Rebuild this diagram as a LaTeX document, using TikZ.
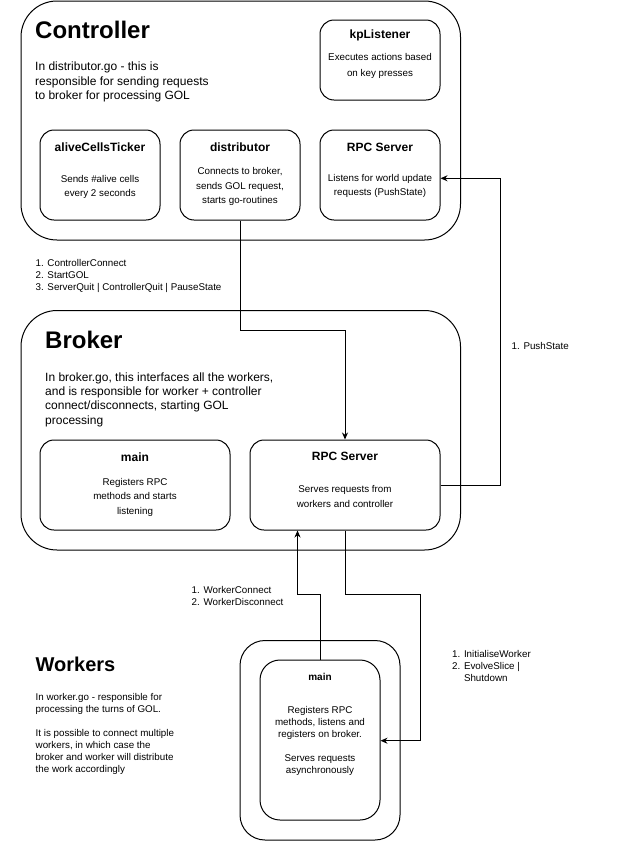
\documentclass[tikz,border=0pt]{standalone}
\usepackage{fontspec}
\setmainfont{Liberation Sans}
\usetikzlibrary{arrows.meta}
\begin{document}
\begin{tikzpicture}[x=1pt,y=-1pt,
  bigbox/.style={draw, line width=1pt, rounded corners=36pt, inner sep=0pt},
  cbox/.style={draw, line width=1pt, rounded corners=14pt, inner sep=0pt, minimum width=120pt, minimum height=90pt},
  wbox/.style={draw, line width=1pt, inner sep=0pt},
  bigtitle/.style={font=\fontsize{24}{28}\selectfont\bfseries, anchor=west, inner sep=0pt},
  desc/.style={font=\fontsize{12}{14.4}\selectfont, anchor=west, align=left, inner sep=0pt},
  btitle/.style={font=\fontsize{12}{14}\selectfont\bfseries, inner sep=0pt},
  bbody/.style={font=\fontsize{9.8}{14.6}\selectfont, align=center, inner sep=0pt},
  lbl/.style={font=\fontsize{9.8}{12}\selectfont, anchor=west, align=left, inner sep=0pt},
  arr/.style={line width=1pt, -{Stealth[length=7pt,width=6pt]}}
]
\useasboundingbox (0,0) rectangle (641,841);

% ---------- Controller ----------
\node[bigbox, minimum width=439.5pt, minimum height=239pt] (ctrl) at (240.75,120.5) {};
\node[bigtitle] (ctrlT) at (35,30) {Controller};
\node[desc] (ctrlD) at (35,82) {In distributor.go - this is\\responsible for sending requests\\to broker for processing GOL};

\node[cbox, minimum height=80pt] (kp) at (380,60) {};
\node[btitle] (kpT) at (380,35) {kpListener};
\node[bbody, font=\fontsize{9.8}{15.5}\selectfont] (kpB) at (380,66) {Executes actions based\\on key presses};

\node[cbox] (alive) at (100,175) {};
\node[btitle] (aliveT) at (100,147.5) {aliveCellsTicker};
\node[bbody] (aliveB) at (100,187) {Sends \#alive cells\\every 2 seconds};

\node[cbox] (dist) at (240,175) {};
\node[btitle] (distT) at (240,147.5) {distributor};
\node[bbody] (distB) at (240,186.5) {Connects to broker,\\sends GOL request,\\starts go-routines};

\node[cbox] (crpc) at (380,175) {};
\node[btitle] (crpcT) at (380,147.5) {RPC Server};
\node[bbody] (crpcB) at (380,186) {Listens for world update\\requests (PushState)};

% ---------- Broker ----------
\node[bigbox, minimum width=439.5pt, minimum height=239.5pt] (brk) at (240.75,430.25) {};
\node[bigtitle] (brkT) at (45,340) {Broker};
\node[desc] (brkD) at (45,399.5) {In broker.go, this interfaces all the workers,\\and is responsible for worker + controller\\connect/disconnects, starting GOL\\processing};

\node[cbox, minimum width=190pt] (bmain) at (135,485) {};
\node[btitle] (bmainT) at (135,457.5) {main};
\node[bbody] (bmainB) at (135,497.3) {Registers RPC\\methods and starts\\listening};

\node[cbox, minimum width=190pt] (brpc) at (345,485) {};
\node[btitle] (brpcT) at (345,456.7) {RPC Server};
\node[bbody] (brpcB) at (345,496.3) {Serves requests from\\workers and controller};

% ---------- Workers ----------
\node[bigtitle, font=\fontsize{20}{24}\selectfont\bfseries] (wrkT) at (35.5,664) {Workers};
\node[lbl] (wrkD) at (35.5,733.5) {In worker.go - responsible for\\processing the turns of GOL.\\[12pt]It is possible to connect multiple\\workers, in which case the\\broker and worker will distribute\\the work accordingly};

\node[wbox, rounded corners=25pt, minimum width=160pt, minimum height=199.5pt] (wout) at (320,740.25) {};
\node[wbox, rounded corners=20pt, minimum width=120pt, minimum height=160pt] (wmain) at (320,740) {};
\node[btitle, font=\fontsize{10}{12}\selectfont\bfseries] (wmainT) at (320,676.5) {main};
\node[bbody, font=\fontsize{9.8}{12}\selectfont] (wmainB) at (320,740.7) {Registers RPC\\methods, listens and\\registers on broker.\\[12pt]Serves requests\\asynchronously};

% ---------- Connector labels ----------
\node[lbl] (l1) at (35.5,276) {1. ControllerConnect\\2. StartGOL\\3. ServerQuit | ControllerQuit | PauseState};
\node[lbl] (l2) at (511.5,346) {1. PushState};
\node[lbl] (l3) at (191.5,596) {1. WorkerConnect\\2. WorkerDisconnect};
\node[lbl] (l4) at (452,665.5) {1. InitialiseWorker\\2. EvolveSlice |\\\phantom{2. }Shutdown};

% ---------- Connectors ----------
\coordinate (ps) at (500.5,485.3);
\coordinate (wc) at (420,594.5);
\draw[arr] (dist.south) -- ++(0,110) -| (brpc.north);
\draw[arr] ([yshift=-0.3pt]brpc.east) -- (ps) |- ([yshift=-3.3pt]crpc.east);
\draw[arr] (wmain.north) -- ++(0,-65.5) -| ([xshift=-47.5pt]brpc.south);
\draw[arr] (brpc.south) |- (wc) |- ([yshift=-0.7pt]wmain.east);
\end{tikzpicture}
\end{document}
